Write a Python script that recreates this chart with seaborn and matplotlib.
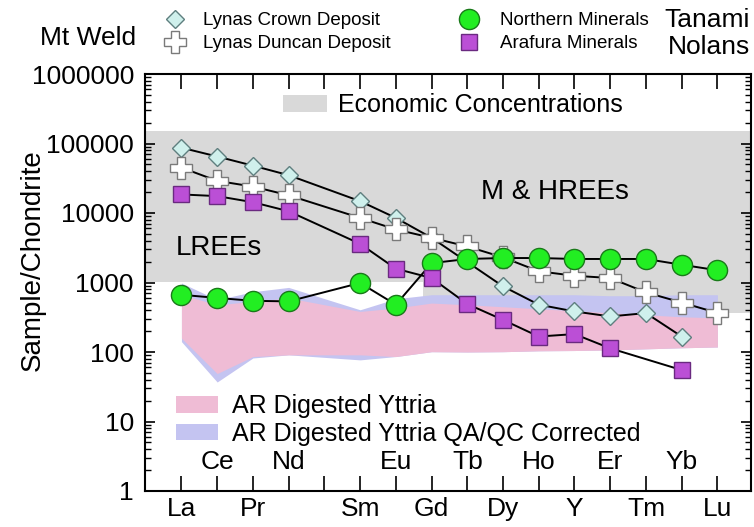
import numpy as np
import pandas as pd
import matplotlib
matplotlib.use("Agg")
import matplotlib.pyplot as plt
from matplotlib.lines import Line2D
from matplotlib.ticker import FixedLocator, LogLocator, NullFormatter, NullLocator
import seaborn as sns

# ---- element axis -------------------------------------------------------
elements = ["La", "Ce", "Pr", "Nd", "Pm", "Sm", "Eu", "Gd", "Tb", "Dy",
            "Ho", "Y", "Er", "Tm", "Yb", "Lu"]
labels_below = ["La", "Pr", "Sm", "Gd", "Dy", "Y", "Tm", "Lu"]
labels_inside = ["Ce", "Nd", "Eu", "Tb", "Ho", "Er", "Yb"]
data_elements = ["La", "Ce", "Pr", "Nd", "Sm", "Eu", "Gd", "Tb", "Dy",
                 "Ho", "Y", "Er", "Tm", "Yb", "Lu"]

# ---- chondrite-normalised REE patterns ----------------------------------
lynas_crown = [87000, 65000, 48000, 35000, 14800, 8500, 4400, None, 880,
               480, 383, 325, 363, 167, None]
lynas_duncan = [45000, 29000, 24000, 18000, 8500, 5800, 4400, 3300, 2300,
                1450, 1250, 1160, 720, 515, 365]
northern_minerals = [665, 600, 545, 535, 985, 480, 1900, 2180, 2250, 2250,
                     2180, 2180, 2180, 1800, 1500]
arafura_minerals = [18500, 17500, 14300, 10600, 3600, 1580, 1160, 490, 290,
                    167, 181, 113, None, 55, None]

# ---- AR digested yttria envelopes ---------------------------------------
pink_upper = [667, 478, 534, 598, 383, 429, 506, 478, 448, 419, 392, 367, 343, 321, 310]
pink_lower = [158, 49, 86, 91, 91, 86, 101, 100, 101, 104, 105, 107, 111, 115, 118]
blue_upper = [984, 565, 737, 850, 405, 584, 667, 667, 667, 667, 667, 645, 645, 667, 667]
blue_lower = [141, 37, 82, 91, 77, 86, 101, 100, 101, 104, 105, 107, 111, 115, 118]

# ---- economic concentration window --------------------------------------
econ_top = 150000
econ_floor_lree = 1000
econ_floor_hree = 370

y_ticks = [1, 10, 100, 1000, 10000, 100000, 1000000]
y_ticklabels = ["1", "10", "100", "1000", "10000", "100000", "1000000"]

# ---- figure -------------------------------------------------------------
W, H, DPI = 754, 527, 100
sns.set_theme(style="ticks")
plt.rcParams["font.family"] = ["Liberation Sans", "DejaVu Sans"]
for key in ("text.color", "axes.labelcolor", "xtick.color", "ytick.color",
            "axes.edgecolor"):
    plt.rcParams[key] = "black"

fig = plt.figure(figsize=(W / DPI, H / DPI), dpi=DPI)
fig.patch.set_facecolor("white")
ax = fig.add_axes([145 / W, 1 - 491 / H, (751 - 145) / W, (491 - 74) / H])
ax.set_facecolor("white")
ax.set_yscale("log")
XMIN, XMAX = -1.02, 15.94
ax.set_xlim(XMIN, XMAX)
ax.set_ylim(1, 1e6)

pos = {e: i for i, e in enumerate(elements)}
xd = [pos[e] for e in data_elements]

# economic window (steps down between Eu and Gd)
split = pos["Eu"] + 0.75 * (pos["Gd"] - pos["Eu"])
econ_color = "#d9d9d9"
econ = ax.fill_between([XMIN, split, split, XMAX],
                       [econ_floor_lree, econ_floor_lree, econ_floor_hree, econ_floor_hree],
                       econ_top, color=econ_color, lw=0, zorder=0)

blue = ax.fill_between(xd, blue_lower, blue_upper, color="#c4c4f1", lw=0, zorder=1)
pink = ax.fill_between(xd, pink_lower, pink_upper, color="#efbcd5", lw=0, zorder=2)

styles = [
    ("Lynas Crown Deposit", lynas_crown,
     dict(marker="D", markersize=9.3, markerfacecolor="#cff0ec", markeredgecolor="#5f7f7f"), 3),
    ("Lynas Duncan Deposit", lynas_duncan,
     dict(marker="P", markersize=15.5, markerfacecolor="white", markeredgecolor="#7a7a7a"), 4),
    ("Northern Minerals", northern_minerals,
     dict(marker="o", markersize=14.5, markerfacecolor="#22ee22", markeredgecolor="#1a7a1a"), 5),
    ("Arafura Minerals", arafura_minerals,
     dict(marker="s", markersize=12, markerfacecolor="#bb4fd6", markeredgecolor="#6a2a80"), 6),
]

handles = {}
for name, vals, mk, z in styles:
    df = pd.DataFrame({"x": xd, "y": pd.Series(vals, dtype="float")}).dropna()
    sns.lineplot(data=df, x="x", y="y", ax=ax, color="black", lw=1.4,
                 markeredgewidth=1.0, zorder=z, legend=False, estimator=None,
                 sort=True, **mk)
    handles[name] = Line2D([], [], linestyle="none", markeredgewidth=1.0, **mk)

ax.set_xlabel("")
ax.set_ylabel("")

# ---- ticks --------------------------------------------------------------
ax.set_xticks(range(len(elements)))
ax.set_xticklabels([e if e in labels_below else "" for e in elements], fontsize=19)
ax.xaxis.set_minor_locator(NullLocator())
ax.tick_params(axis="x", which="major", direction="in", length=11, width=1.2,
               top=True, bottom=True, pad=4, colors="black", labelcolor="black")

ax.yaxis.set_major_locator(FixedLocator(y_ticks))
ax.set_yticklabels(y_ticklabels)
ax.yaxis.set_minor_locator(LogLocator(base=10, subs=np.arange(2, 10), numticks=20))
ax.yaxis.set_minor_formatter(NullFormatter())
ax.tick_params(axis="y", which="major", direction="in", length=7.5, width=1.2,
               left=True, right=True, labelsize=19, pad=8, colors="black", labelcolor="black")
ax.tick_params(axis="y", which="minor", direction="in", length=4, width=1.0,
               left=True, right=True, colors="black")
for s in ax.spines.values():
    s.set_visible(True)
    s.set_linewidth(1.5)
    s.set_color("black")

for e in labels_inside:
    ax.text(pos[e], 0.0695, e, transform=ax.get_xaxis_transform(),
            ha="center", va="center", fontsize=19, color="black")

# ---- annotations --------------------------------------------------------
ax.text(0.122, 0.583, "LREEs", transform=ax.transAxes, ha="center", va="center",
        fontsize=20, color="black", zorder=7)
ax.text(0.677, 0.717, "M & HREEs", transform=ax.transAxes, ha="center", va="center",
        fontsize=20, color="black", zorder=7)

econ_leg = ax.legend([econ], ["Economic Concentrations"], loc="upper left",
                     bbox_to_anchor=(0.2277, 0.954), frameon=False, fontsize=18,
                     handlelength=1.76, handleheight=0.72, handletextpad=0.44,
                     borderpad=0, borderaxespad=0)
ax.add_artist(econ_leg)
ax.legend([pink, blue], ["AR Digested Yttria", "AR Digested Yttria QA/QC Corrected"],
          loc="upper left", bbox_to_anchor=(0.0512, 0.232), frameon=False,
          fontsize=18, handlelength=1.68, handleheight=0.64, handletextpad=0.56,
          labelspacing=0.15, borderpad=0, borderaxespad=0)

# ---- deposit key above the axes -----------------------------------------
fig.legend([handles["Lynas Crown Deposit"], handles["Lynas Duncan Deposit"]],
           ["Lynas Crown Deposit", "Lynas Duncan Deposit"],
           loc="upper left", bbox_to_anchor=(166 / W, 1 - 12 / H), frameon=False,
           fontsize=13.5, handlelength=1.0, handletextpad=0.95, labelspacing=0.33,
           borderpad=0, borderaxespad=0)
fig.legend([handles["Northern Minerals"], handles["Arafura Minerals"]],
           ["Northern Minerals", "Arafura Minerals"],
           loc="upper left", bbox_to_anchor=(460 / W, 1 - 12 / H), frameon=False,
           fontsize=13.5, handlelength=1.0, handletextpad=1.15, labelspacing=0.33,
           borderpad=0, borderaxespad=0)

fig.text(88 / W, 1 - 38 / H, "Mt Weld", ha="center", va="center", fontsize=19)
fig.text(750 / W, 1 - 20 / H, "Tanami", ha="right", va="center", fontsize=19)
fig.text(750 / W, 1 - 47 / H, "Nolans", ha="right", va="center", fontsize=19)
fig.text(33 / W, 1 - 260 / H, "Sample/Chondrite", rotation=90, ha="center",
         va="center", fontsize=20)

fig.savefig("out.png", dpi=DPI, facecolor="white")
